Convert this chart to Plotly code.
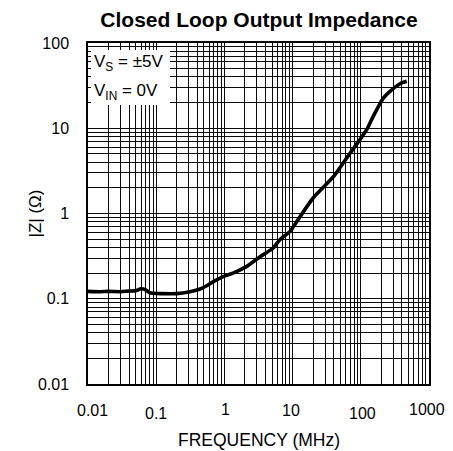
import math
import plotly.graph_objects as go

# Data
freq_mhz = [0.01, 0.015, 0.02, 0.03, 0.04, 0.05, 0.06, 0.07, 0.08, 0.09, 0.12, 0.2,
            0.3, 0.44, 0.55, 0.7, 0.96, 1.34, 2.1, 3.3, 5.2, 6.5, 9.2, 10.25, 20, 40,
            62, 97, 122, 152, 214, 268, 376, 471]
z_ohm = [0.122, 0.121, 0.122, 0.121, 0.123, 0.124, 0.131, 0.127, 0.118, 0.116, 0.115, 0.115,
         0.12, 0.13, 0.142, 0.16, 0.182, 0.2, 0.238, 0.309, 0.394, 0.493, 0.617, 0.7, 1.52, 2.72,
         4.48, 7.35, 9.62, 13.8, 22.6, 27.1, 33.3, 35.5]

x_tick_vals = [0.01, 0.1, 1, 10, 100, 1000]
x_tick_text = ["0.01", "0.1", "1", "10", "100", "1000"]
y_tick_vals = [0.01, 0.1, 1, 10, 100]
y_tick_text = ["0.01", "0.1", "1", "10", "100"]

title_text = "Closed Loop Output Impedance"
x_title = "FREQUENCY (MHz)"
y_title = "|Z| (Ω)"
cond_lines = ["V<sub>S</sub> = ±5V", "V<sub>IN</sub> = 0V"]

FONT = "Liberation Sans, Arial, Helvetica, sans-serif"
OFF = 8  # page body margin
W, H = 453 - OFF, 451 - OFF
ML, MR, MT, MB = 88 - OFF, 24, 43 - OFF, 67

fig = go.Figure()
fig.add_trace(go.Scatter(x=freq_mhz, y=z_ohm, mode="lines",
                         line=dict(color="black", width=3.6, shape="spline", smoothing=0.6),
                         showlegend=False, hoverinfo="skip"))

grid_col = "#0a0a0a"
fig.update_xaxes(type="log", range=[-2, 3], showgrid=True, gridcolor=grid_col, gridwidth=1.2,
                 minor=dict(showgrid=True, gridcolor=grid_col, gridwidth=1.2, dtick="D1"),
                 tickvals=x_tick_vals, showticklabels=False, ticks="",
                 showline=True, linecolor="black", linewidth=1.5, mirror=True, zeroline=False)
fig.update_yaxes(type="log", range=[-2, 2], showgrid=True, gridcolor=grid_col, gridwidth=1.2,
                 minor=dict(showgrid=True, gridcolor=grid_col, gridwidth=1.2, dtick="D1"),
                 tickvals=y_tick_vals, ticktext=y_tick_text, ticks="",
                 ticklabelstandoff=14,
                 tickfont=dict(family=FONT, size=16, color="black"),
                 showline=True, linecolor="black", linewidth=1.5, mirror=True, zeroline=False)

# x tick labels (slightly staggered as in the reference)
x_shifts = [4, 0, 1, -2, 2, -2]
y_shifts = [-26, -29, -25, -26, -29, -25]
for v, t, dx, dy in zip(x_tick_vals, x_tick_text, x_shifts, y_shifts):
    fig.add_annotation(x=math.log10(v), y=0, xref="x", yref="paper", text=t, showarrow=False,
                       xanchor="center", yanchor="middle", xshift=dx, yshift=dy,
                       font=dict(family=FONT, size=16, color="black"))

# axis titles
fig.add_annotation(x=0.5, y=0, xref="paper", yref="paper", text=x_title, showarrow=False,
                   xanchor="center", yanchor="middle", yshift=-56,
                   font=dict(family=FONT, size=17.5, color="black"))
fig.add_annotation(x=0, y=0.5, xref="paper", yref="paper", text=y_title, showarrow=False,
                   xanchor="center", yanchor="middle", xshift=-53, textangle=-90,
                   font=dict(family=FONT, size=17, color="black"))

# condition box
pw, ph = W - ML - MR, H - MT - MB
fig.add_shape(type="rect", xref="paper", yref="paper",
              x0=3 / pw, x1=82 / pw, y0=1 - 62 / ph, y1=1 - 7 / ph,
              fillcolor="white", line=dict(width=0), layer="above")
for i, t in enumerate(cond_lines):
    fig.add_annotation(x=0, y=1, xref="paper", yref="paper", text=t, showarrow=False,
                       xanchor="left", yanchor="middle", xshift=4, yshift=-(20 + 29 * i),
                       font=dict(family=FONT, size=17, color="black"))

fig.update_layout(
    width=W, height=H,
    margin=dict(l=ML, r=MR, t=MT, b=MB),
    paper_bgcolor="white", plot_bgcolor="white",
    title=dict(text="<b>" + title_text + "</b>", x=(259 - OFF) / W, xanchor="center",
               y=1 - (20 - OFF) / H, yanchor="middle",
               font=dict(family=FONT, size=21, color="black")),
)

fig.write_html("out.html")
